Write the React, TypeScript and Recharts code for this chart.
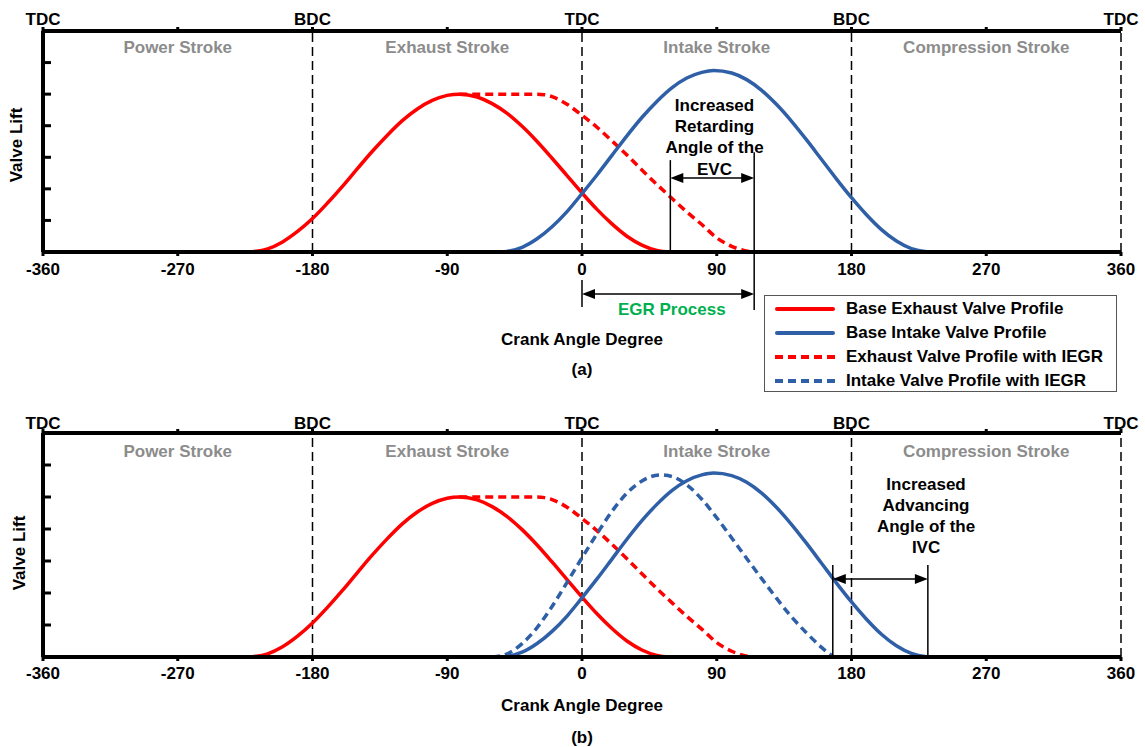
import React from 'react';
import { LineChart, Line, XAxis, YAxis, ReferenceLine, ReferenceDot, Legend } from 'recharts';

const FONT = "Arial, 'Liberation Sans', Helvetica, sans-serif";
const RED = '#FF0000';
const BLUE = '#2F5FA7';
const GREY = '#8C8C8C';
const GREEN = '#00B050';
const DASH = '8 5';
const AXIS_H = 30;

// axes
const crankTicks = [-360, -270, -180, -90, 0, 90, 180, 270, 360];
const deadCentreAngles = [-360, -180, 0, 180, 360];
const deadCentreLabels = ['TDC', 'BDC', 'TDC', 'BDC', 'TDC'];
const strokeCentres = [-270, -90, 90, 270];
const strokeNames = ['Power Stroke', 'Exhaust Stroke', 'Intake Stroke', 'Compression Stroke'];
const liftTicks = [0, 1, 2, 3, 4, 5, 6, 7];

// series (crank angle in degrees, valve lift in arbitrary units)
const baseExhaustAngle = [-223, -210, -200, -190, -180, -170, -160, -150, -140, -130, -120, -110, -100, -90, -82, -70, -60, -50, -40, -30, -20, -10, 0, 10, 20, 30, 40, 50, 59];
const baseExhaustLift = [0, 0.1, 0.32, 0.65, 1.06, 1.55, 2.08, 2.64, 3.19, 3.7, 4.16, 4.53, 4.8, 4.96, 5.0, 4.91, 4.7, 4.39, 3.98, 3.5, 2.97, 2.42, 1.87, 1.35, 0.89, 0.5, 0.22, 0.05, 0];

const iegrExhaustAngle = [-82, -70, -60, -50, -40, -30, -25, -20, -10, 0, 10, 20, 30, 40, 50, 60, 70, 80, 90, 100, 108, 115];
const iegrExhaustLift = [5.0, 5.0, 5.0, 5.0, 5.0, 5.0, 4.98, 4.92, 4.68, 4.33, 3.95, 3.52, 3.07, 2.6, 2.14, 1.7, 1.27, 0.87, 0.45, 0.18, 0.05, 0];

const baseIntakeAngle = [-55, -50, -40, -30, -20, -10, 0, 10, 20, 30, 40, 50, 60, 70, 80, 88, 100, 110, 120, 130, 140, 150, 160, 170, 180, 190, 200, 210, 220, 230, 233];
const baseIntakeLift = [0, 0.02, 0.15, 0.42, 0.8, 1.28, 1.85, 2.44, 3.06, 3.68, 4.26, 4.77, 5.2, 5.51, 5.69, 5.75, 5.67, 5.46, 5.12, 4.67, 4.14, 3.55, 2.93, 2.31, 1.72, 1.18, 0.71, 0.35, 0.11, 0.01, 0];

const iegrIntakeAngle = [-60, -50, -40, -30, -20, -10, 0, 10, 20, 30, 40, 52, 60, 70, 80, 90, 100, 110, 120, 130, 140, 150, 160, 168];
const iegrIntakeLift = [0, 0.1, 0.42, 0.92, 1.58, 2.33, 3.1, 3.85, 4.55, 5.12, 5.5, 5.69, 5.64, 5.38, 4.93, 4.35, 3.72, 3.08, 2.45, 1.83, 1.25, 0.75, 0.3, 0];

// legend
const legendNames = ['Base Exhaust Valve Profile', 'Base Intake Valve Profile', 'Exhaust Valve Profile with IEGR', 'Intake Valve Profile with IEGR'];
const legendColors = [RED, BLUE, RED, BLUE];
const legendDashed = [false, false, true, true];

// annotations
const evcBaseClose = 59;
const evcIegrClose = 115;
const ivcIegrClose = 167.5;
const ivcBaseClose = 231;
const evcNoteLines = ['Increased', 'Retarding', 'Angle of the', 'EVC'];
const ivcNoteLines = ['Increased', 'Advancing', 'Angle of the', 'IVC'];

const zip = (a: number[], b: number[]) => a.map((x, i) => ({ x, y: b[i] }));
const baseExhaust = zip(baseExhaustAngle, baseExhaustLift);
const iegrExhaust = zip(iegrExhaustAngle, iegrExhaustLift);
const baseIntake = zip(baseIntakeAngle, baseIntakeLift);
const iegrIntake = zip(iegrIntakeAngle, iegrIntakeLift);

const tickFont = { fill: '#000', fontSize: 17, fontWeight: 700, fontFamily: FONT };
const topLabel = (v: any) => {
  const i = deadCentreAngles.indexOf(Number(v));
  return i >= 0 ? deadCentreLabels[i] : '';
};

const DoubleArrow = (props: any) => {
  const { x1, y1, x2 } = props;
  const l = Math.min(x1, x2);
  const r = Math.max(x1, x2);
  const y = y1;
  const L = 13;
  const H = 5;
  return (
    <g>
      <line x1={l + 4} y1={y} x2={r - 4} y2={y} stroke="#000" strokeWidth={1.5} />
      <polygon points={`${l},${y} ${l + L},${y - H} ${l + L},${y + H}`} fill="#000" />
      <polygon points={`${r},${y} ${r - L},${y - H} ${r - L},${y + H}`} fill="#000" />
    </g>
  );
};

const textLabel = (value: string, fill: string, position: any = 'center') => ({
  value,
  position,
  fill,
  fontSize: 17,
  fontWeight: 700,
  fontFamily: FONT,
});

const LegendBox = () => (
  <div
    style={{
      boxSizing: 'border-box',
      width: 353,
      height: 97,
      border: '1.5px solid #555',
      background: '#fff',
      padding: '1px 0 0 10px',
      fontFamily: FONT,
      fontSize: 17,
      fontWeight: 700,
      color: '#000',
    }}
  >
    {legendNames.map((n, i) => (
      <div key={n} style={{ display: 'flex', alignItems: 'center', height: 23.9, whiteSpace: 'nowrap' }}>
        <svg width={60} height={8} style={{ marginRight: 11, flex: 'none' }}>
          <line
            x1={legendDashed[i] ? 0 : 2}
            y1={4}
            x2={legendDashed[i] ? 60 : 58}
            y2={4}
            stroke={legendColors[i]}
            strokeWidth={4}
            strokeLinecap={legendDashed[i] ? 'butt' : 'round'}
            strokeDasharray={legendDashed[i] ? DASH : undefined}
          />
        </svg>
        <span>{n}</span>
      </div>
    ))}
  </div>
);

function commonAxes(bottomMargin: number, topMargin: number) {
  return [
    <XAxis
      key="xb"
      dataKey="x"
      type="number"
      domain={[-360, 360]}
      ticks={crankTicks}
      interval={0}
      height={AXIS_H}
      axisLine={{ stroke: '#000', strokeWidth: 4 }}
      tickLine={{ stroke: '#000', strokeWidth: 3 }}
      tickSize={4}
      tickMargin={bottomMargin}
      tick={tickFont}
    />,
    <XAxis
      key="xt"
      xAxisId="top"
      orientation="top"
      dataKey="x"
      type="number"
      domain={[-360, 360]}
      allowDataOverflow
      ticks={crankTicks}
      interval={0}
      height={AXIS_H}
      axisLine={{ stroke: '#000', strokeWidth: 4 }}
      tickLine={{ stroke: '#000', strokeWidth: 3 }}
      tickSize={4}
      tickMargin={topMargin}
      tick={tickFont}
      tickFormatter={topLabel}
    />,
    <YAxis
      key="y"
      type="number"
      domain={[0, 7]}
      ticks={liftTicks}
      interval={0}
      mirror
      width={60}
      tick={{ fill: 'none', fontSize: 1 }}
      tickFormatter={() => ''}
      tickSize={8}
      tickLine={{ stroke: '#000', strokeWidth: 3 }}
      axisLine={{ stroke: '#000', strokeWidth: 4 }}
    />,
    ...deadCentreAngles.slice(1).map((a) => (
      <ReferenceLine key={`dc${a}`} x={a} stroke="#000" strokeWidth={1.5} strokeDasharray="9 5" />
    )),
  ];
}

function strokeLabels(y: number) {
  return strokeCentres.map((c, i) => (
    <ReferenceDot
      key={`st${c}`}
      x={c}
      y={y}
      r={0}
      fill="none"
      stroke="none"
      ifOverflow="visible"
      label={textLabel(strokeNames[i], GREY)}
    />
  ));
}

function ChartA() {
  return (
    <LineChart width={1145} height={400} margin={{ top: 31 - AXIS_H, right: 24, bottom: 148 - AXIS_H, left: 43 }}>
      {commonAxes(7, 2)}
      {strokeLabels(6.5)}
      <Line data={baseExhaust} dataKey="y" type="monotone" stroke={RED} strokeWidth={3.5} dot={false} isAnimationActive={false} />
      <Line data={iegrExhaust} dataKey="y" type="monotone" stroke={RED} strokeWidth={3.5} strokeDasharray={DASH} dot={false} isAnimationActive={false} />
      <Line data={baseIntake} dataKey="y" type="monotone" stroke={BLUE} strokeWidth={3.5} dot={false} isAnimationActive={false} />
      <ReferenceLine segment={[{ x: evcBaseClose, y: 2.91 }, { x: evcBaseClose, y: 0 }]} stroke="#000" strokeWidth={1.5} ifOverflow="visible" />
      <ReferenceLine segment={[{ x: evcIegrClose, y: 3.16 }, { x: evcIegrClose, y: -1.84 }]} stroke="#000" strokeWidth={1.5} ifOverflow="visible" />
      <ReferenceLine segment={[{ x: 0, y: -0.89 }, { x: 0, y: -1.74 }]} stroke="#000" strokeWidth={1.5} ifOverflow="visible" />
      <ReferenceLine segment={[{ x: evcBaseClose, y: 2.34 }, { x: evcIegrClose, y: 2.34 }]} ifOverflow="visible" shape={(p: any) => <DoubleArrow {...p} />} />
      <ReferenceLine segment={[{ x: 0, y: -1.33 }, { x: evcIegrClose, y: -1.33 }]} ifOverflow="visible" shape={(p: any) => <DoubleArrow {...p} />} />
      {evcNoteLines.map((t, i) => (
        <ReferenceDot key={`evc${i}`} x={88.5} y={4.66 - i * 0.672} r={0} fill="none" stroke="none" ifOverflow="visible" label={textLabel(t, '#000')} />
      ))}
      <ReferenceDot x={60} y={-1.8} r={0} fill="none" stroke="none" ifOverflow="visible" label={textLabel('EGR Process', GREEN)} />
      <Legend
        verticalAlign="middle"
        align="center"
        layout="horizontal"
        wrapperStyle={{ left: 764, top: 295, width: 353, height: 97 }}
        content={() => <LegendBox />}
      />
    </LineChart>
  );
}

function ChartB() {
  return (
    <LineChart width={1145} height={347} margin={{ top: 33 - AXIS_H, right: 24, bottom: 90 - AXIS_H, left: 43 }}>
      {commonAxes(6, 0)}
      {strokeLabels(6.44)}
      <Line data={baseExhaust} dataKey="y" type="monotone" stroke={RED} strokeWidth={3.5} dot={false} isAnimationActive={false} />
      <Line data={iegrExhaust} dataKey="y" type="monotone" stroke={RED} strokeWidth={3.5} strokeDasharray={DASH} dot={false} isAnimationActive={false} />
      <Line data={baseIntake} dataKey="y" type="monotone" stroke={BLUE} strokeWidth={3.5} dot={false} isAnimationActive={false} />
      <Line data={iegrIntake} dataKey="y" type="monotone" stroke={BLUE} strokeWidth={3.5} strokeDasharray={DASH} dot={false} isAnimationActive={false} />
      <ReferenceLine segment={[{ x: ivcIegrClose, y: 2.875 }, { x: ivcIegrClose, y: 0 }]} stroke="#000" strokeWidth={1.5} ifOverflow="visible" />
      <ReferenceLine segment={[{ x: ivcBaseClose, y: 2.875 }, { x: ivcBaseClose, y: 0 }]} stroke="#000" strokeWidth={1.5} ifOverflow="visible" />
      <ReferenceLine segment={[{ x: ivcIegrClose, y: 2.44 }, { x: ivcBaseClose, y: 2.44 }]} ifOverflow="visible" shape={(p: any) => <DoubleArrow {...p} />} />
      {ivcNoteLines.map((t, i) => (
        <ReferenceDot key={`ivc${i}`} x={229.8} y={5.41 - i * 0.656} r={0} fill="none" stroke="none" ifOverflow="visible" label={textLabel(t, '#000')} />
      ))}
    </LineChart>
  );
}

const textStyle = (left: number, top: number, rotate = false): React.CSSProperties => ({
  position: 'absolute',
  left,
  top,
  transform: rotate ? 'translate(-50%, -50%) rotate(-90deg)' : 'translate(-50%, -50%)',
  fontFamily: FONT,
  fontSize: 17,
  fontWeight: 700,
  lineHeight: 1,
  whiteSpace: 'nowrap',
  color: '#000',
});

export default function App() {
  return (
    <div style={{ position: 'absolute', left: 0, top: 0, width: 1145, height: 747, background: '#fff', overflow: 'hidden' }}>
      <div style={{ position: 'absolute', left: 0, top: 0 }}>
        <ChartA />
      </div>
      <div style={{ position: 'absolute', left: 0, top: 400 }}>
        <ChartB />
      </div>
      <div style={textStyle(16, 145, true)}>Valve Lift</div>
      <div style={textStyle(19, 553, true)}>Valve Lift</div>
      <div style={textStyle(582, 339)}>Crank Angle Degree</div>
      <div style={textStyle(582, 369)}>(a)</div>
      <div style={textStyle(582, 705)}>Crank Angle Degree</div>
      <div style={textStyle(582, 737)}>(b)</div>
    </div>
  );
}
